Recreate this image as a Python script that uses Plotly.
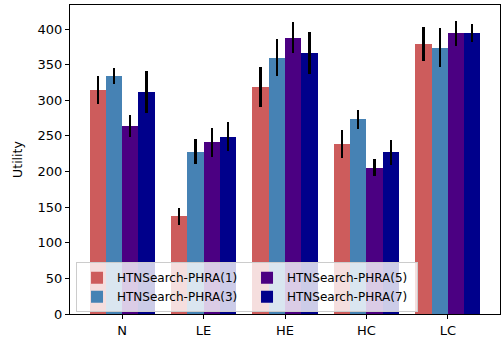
import plotly.graph_objects as go

categories = ["N", "LE", "HE", "HC", "LC"]
series_names = ["HTNSearch-PHRA(1)", "HTNSearch-PHRA(3)", "HTNSearch-PHRA(5)", "HTNSearch-PHRA(7)"]
phra1 = [314, 137, 319, 239, 379]
phra3 = [334, 228, 360, 273, 374]
phra5 = [264, 241, 388, 205, 394]
phra7 = [311, 249, 366, 227, 395]
err1 = [19.5, 12, 28, 19.5, 24]
err3 = [11, 17, 26, 13.5, 27]
err5 = [16, 20.5, 21.5, 12, 17.7]
err7 = [29.5, 20, 29.7, 17.6, 12.7]

colors = ["#CD5C5C", "#4682B4", "#4B0082", "#00008B"]
values = [phra1, phra3, phra5, phra7]
errors = [err1, err3, err5, err7]
ranks = [1, 3, 2, 4]

x_idx = list(range(len(categories)))
width = 0.2
fig = go.Figure()
for i, (name, v, e, c) in enumerate(zip(series_names, values, errors, colors)):
    off = (i - 1.5) * width
    fig.add_trace(go.Bar(
        x=[k + off for k in x_idx], y=v, width=width, name=name,
        marker=dict(color=c, line=dict(width=0)),
        error_y=dict(type="data", array=e, color="black", thickness=2.2, width=0),
        legendrank=ranks[i],
    ))

fig.update_layout(
    width=503, height=339,
    margin=dict(l=70, r=3, t=5, b=25, autoexpand=False),
    paper_bgcolor="white", plot_bgcolor="white",
    font=dict(family="DejaVu Sans", size=12, color="black"),
    bargap=0, showlegend=True,
    legend=dict(
        orientation="h", x=0.014, y=0.006, xanchor="left", yanchor="bottom",
        bgcolor="rgba(255,255,255,0.8)", bordercolor="#cccccc", borderwidth=1,
        entrywidth=125, entrywidthmode="pixels",
        font=dict(size=12), tracegroupgap=0, itemwidth=30,
    ),
)
fig.update_xaxes(
    range=[-0.64, 4.64], tickmode="array", tickvals=x_idx, ticktext=categories,
    showline=True, linecolor="black", linewidth=1, mirror=True,
    ticks="outside", ticklen=4, tickcolor="black", showgrid=False, zeroline=False,
    tickfont=dict(size=13), automargin=False,
)
fig.update_yaxes(
    range=[0, 433.7], tickvals=[0, 50, 100, 150, 200, 250, 300, 350, 400],
    showline=True, linecolor="black", linewidth=1, mirror=True,
    ticks="outside", ticklen=4, tickcolor="black", showgrid=False, zeroline=False,
    title=dict(text="Utility", font=dict(size=12.5), standoff=12),
    tickfont=dict(size=13), automargin=False,
)
fig.write_html(
    "out.html",
    config={"displayModeBar": False},
    post_script="document.body.style.margin='0px';document.body.style.padding='0px';",
)
